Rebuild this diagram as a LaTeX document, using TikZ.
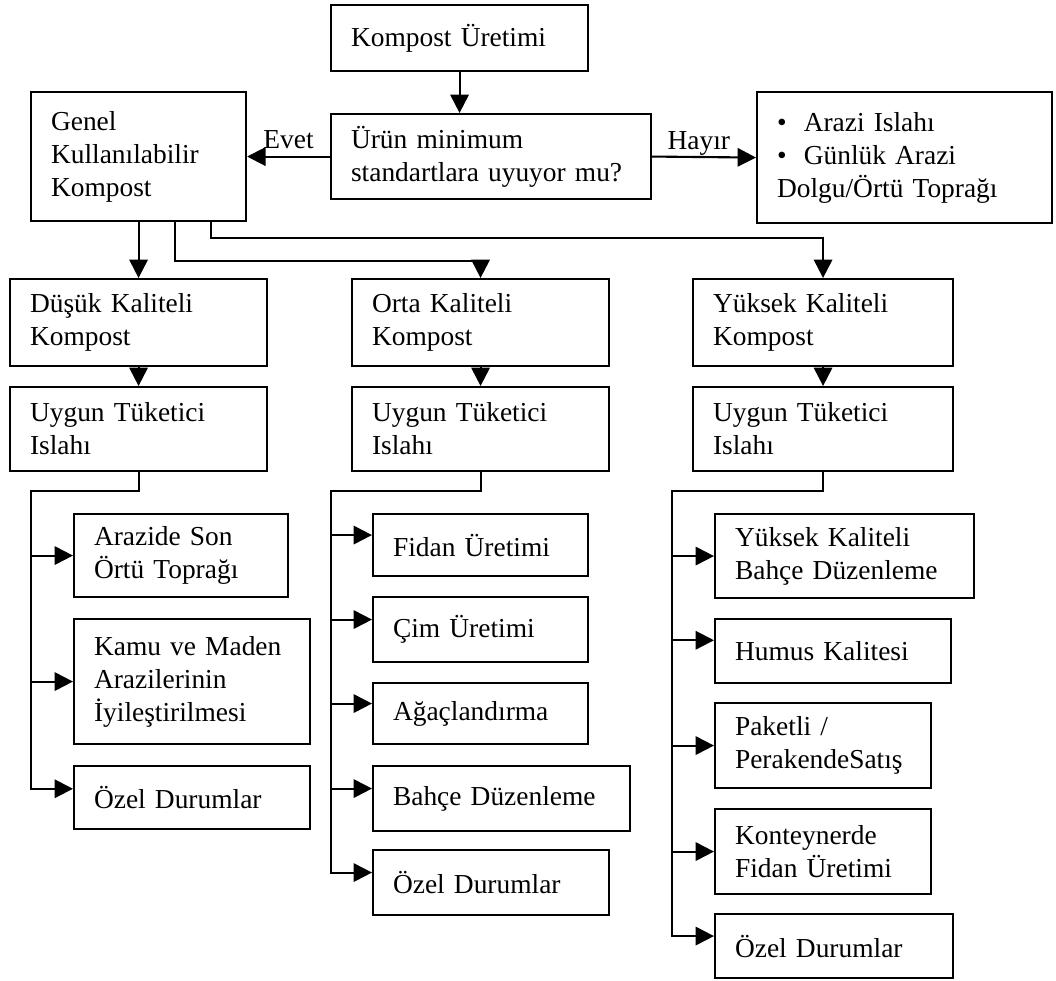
\documentclass[tikz,border=0pt]{standalone}
\usepackage{fontspec}
\setmainfont{Liberation Serif}
\usetikzlibrary{arrows.meta}
\newcommand\px{0.025cm}
\newcommand\madde{\makebox[19pt][l]{\textbullet}}
\tikzset{
  kutu/.style 2 args={
    draw,
    line width = 1.5pt,
    inner xsep = 0.5cm,
    inner ysep = 0pt,
    anchor = north west,
    align = left,
    font = \fontsize{19.5}{23.4}\selectfont,
    minimum width = #1*\px,
    minimum height = #2*\px,
    text width = #1*\px-1cm
  },
  hat/.style={
    line width = 1.5pt
  },
  ok/.style={
    hat,
    -{Triangle[length=0.46cm,width=0.46cm]}
  },
  etiket/.style={
    font = \fontsize{19.5}{23.4}\selectfont,
    inner sep = 0pt,
    text depth = 0pt
  }
}

\begin{document}
\begin{tikzpicture}[x=\px, y=-\px]

    \path[use as bounding box, fill=white] (0,0) rectangle (1056,980);

    % ust kisim
    \node[kutu={257}{66}] (uretim) at (330,4) {Kompost Üretimi};
    \node[kutu={320}{85}] (soru) at (330,113) {Ürün minimum\\standartlara uyuyor mu?};
    \node[kutu={215}{129}] (genel) at (30,91) {Genel\\Kullanılabilir\\Kompost};
    \node[kutu={295}{131}] (arazi) at (756,91) {\madde Arazi Islahı\\\madde Günlük Arazi\\Dolgu/Örtü Toprağı};

    \draw[ok] (uretim.south) -- (uretim.south |- soru.north);
    \draw[ok] (soru.west) -- node[etiket, above=0.17cm] {Evet} (genel.east);
    \draw[ok] (soru.east) -- node[etiket, above=0.17cm, pos=0.45] {Hayır} (arazi.west);

    % kalite kutulari
    \node[kutu={257}{87}] (dusuk) at (9,278) {Düşük Kaliteli\\Kompost};
    \node[kutu={257}{87}] (orta) at (351,278) {Orta Kaliteli\\Kompost};
    \node[kutu={260}{87}] (yuksek) at (692,278) {Yüksek Kaliteli\\Kompost};

    \draw[ok] (genel.south) -- (dusuk.north);
    \draw[ok] (genel.south) ++(36,0) -- ++(0,39) -| (orta.north);
    \draw[ok] (genel.south) ++(72,0) -- ++(0,16) -| (yuksek.north);

    \node[kutu={257}{84}] (uygunA) at (9,386) {Uygun Tüketici\\Islahı};
    \node[kutu={257}{84}] (uygunB) at (351,386) {Uygun Tüketici\\Islahı};
    \node[kutu={260}{84}] (uygunC) at (692,386) {Uygun Tüketici\\Islahı};

    \draw[ok] (dusuk.south) -- (uygunA.north);
    \draw[ok] (orta.south) -- (uygunB.north);
    \draw[ok] (yuksek.south) -- (uygunC.north);

    % dusuk kalite
    \coordinate (busA) at (31,491);
    \node[kutu={214}{83}] (arazide) at (73,513) {Arazide Son\\Örtü Toprağı};
    \node[kutu={236}{125}] (kamu) at (73,618) {Kamu ve Maden\\Arazilerinin\\İyileştirilmesi};
    \node[kutu={236}{63}] (ozelA) at (73,765) {Özel Durumlar};

    \draw[ok] (uygunA.south) |- (busA) -- ([yshift=0.22cm]busA |- ozelA.west) -- ([yshift=0.22cm]ozelA.west);
    \draw[ok] (busA |- arazide.west) -- (arazide.west);
    \draw[ok] (busA |- kamu.west) -- (kamu.west);

    % orta kalite
    \coordinate (busB) at (331,491);
    \node[kutu={215}{62}] (fidan) at (372,513) {Fidan Üretimi};
    \node[kutu={215}{65}] (cim) at (372,596) {Çim Üretimi};
    \node[kutu={215}{61}] (agac) at (372,682) {Ağaçlandırma};
    \node[kutu={257}{65}] (bahce) at (372,765) {Bahçe Düzenleme};
    \node[kutu={236}{65}] (ozelB) at (372,849) {Özel Durumlar};

    \draw[ok] (uygunB.south) |- (busB) -- ([yshift=0.25cm]busB |- ozelB.west) -- ([yshift=0.25cm]ozelB.west);
    \draw[ok] ([yshift=0.25cm]busB |- fidan.west) -- ([yshift=0.25cm]fidan.west);
    \draw[ok] ([yshift=0.25cm]busB |- cim.west) -- ([yshift=0.25cm]cim.west);
    \draw[ok] ([yshift=0.25cm]busB |- agac.west) -- ([yshift=0.25cm]agac.west);
    \draw[ok] ([yshift=0.25cm]busB |- bahce.west) -- ([yshift=0.25cm]bahce.west);

    % yuksek kalite
    \coordinate (busC) at (672,491);
    \node[kutu={259}{84}] (ybahce) at (714,513) {Yüksek Kaliteli\\Bahçe Düzenleme};
    \node[kutu={236}{64}] (humus) at (714,618) {Humus Kalitesi};
    \node[kutu={216}{85}] (paket) at (714,702) {Paketli /\\PerakendeSatış};
    \node[kutu={216}{85}] (kont) at (714,808) {Konteynerde\\Fidan Üretimi};
    \node[kutu={238}{64}] (ozelC) at (714,913) {Özel Durumlar};

    \draw[ok] (uygunC.south) |- (busC) -- ([yshift=0.25cm]busC |- ozelC.west) -- ([yshift=0.25cm]ozelC.west);
    \draw[ok] (busC |- ybahce.west) -- (ybahce.west);
    \draw[ok] ([yshift=0.27cm]busC |- humus.west) -- ([yshift=0.27cm]humus.west);
    \draw[ok] (busC |- paket.west) -- (paket.west);
    \draw[ok] (busC |- kont.west) -- (kont.west);

\end{tikzpicture}
\end{document}
